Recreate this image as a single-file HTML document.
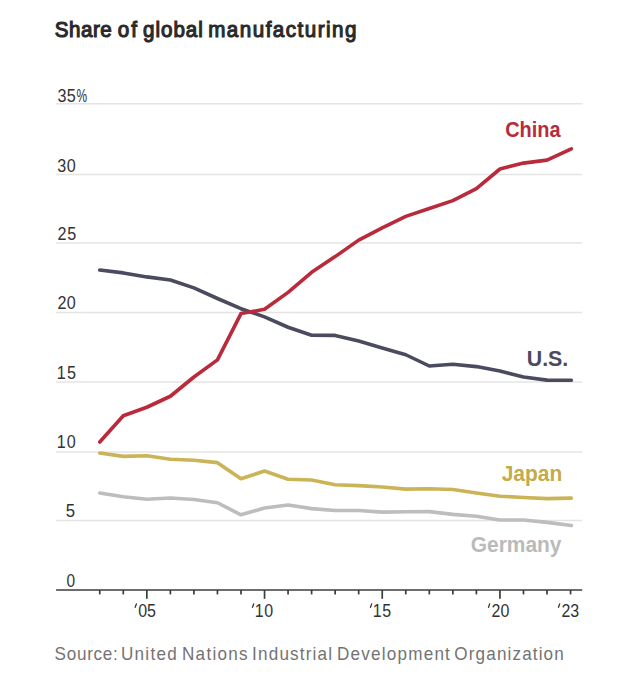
<!DOCTYPE html><html><head><meta charset="utf-8"><style>html,body{margin:0;padding:0;background:#fff;overflow:hidden}svg{display:block}</style></head><body><svg width="640" height="677" viewBox="0 0 640 677">
<rect width="640" height="677" fill="#ffffff"/>
<text transform="scale(0.94,1)" x="58.31" y="36.8" font-family='"Liberation Sans", sans-serif' font-weight="normal" font-size="21.9" fill="#2a2a2a" stroke="#2a2a2a" stroke-width="1.15" textLength="60.62" lengthAdjust="spacing">Share</text>
<text transform="scale(0.94,1)" x="125.15" y="36.8" font-family='"Liberation Sans", sans-serif' font-weight="normal" font-size="21.9" fill="#2a2a2a" stroke="#2a2a2a" stroke-width="1.15" textLength="20.53" lengthAdjust="spacing">of</text>
<text transform="scale(0.94,1)" x="152.16" y="36.8" font-family='"Liberation Sans", sans-serif' font-weight="normal" font-size="21.9" fill="#2a2a2a" stroke="#2a2a2a" stroke-width="1.15" textLength="63.58" lengthAdjust="spacing">global</text>
<text transform="scale(0.94,1)" x="221.50" y="36.8" font-family='"Liberation Sans", sans-serif' font-weight="normal" font-size="21.9" fill="#2a2a2a" stroke="#2a2a2a" stroke-width="1.15" textLength="157.70" lengthAdjust="spacing">manufacturing</text>
<line x1="56.1" y1="103.7" x2="582.3" y2="103.7" stroke="#e4e4e4" stroke-width="1.5"/>
<line x1="56.1" y1="174.5" x2="582.3" y2="174.5" stroke="#e4e4e4" stroke-width="1.5"/>
<line x1="56.1" y1="242.9" x2="582.3" y2="242.9" stroke="#e4e4e4" stroke-width="1.5"/>
<line x1="56.1" y1="312.4" x2="582.3" y2="312.4" stroke="#e4e4e4" stroke-width="1.5"/>
<line x1="56.1" y1="382.1" x2="582.3" y2="382.1" stroke="#e4e4e4" stroke-width="1.5"/>
<line x1="56.1" y1="451.9" x2="582.3" y2="451.9" stroke="#e4e4e4" stroke-width="1.5"/>
<line x1="56.1" y1="520.4" x2="582.3" y2="520.4" stroke="#e4e4e4" stroke-width="1.5"/>
<text transform="scale(0.86,1)" x="66.82" y="101.9" font-family='"Liberation Sans", sans-serif' font-weight="normal" font-size="18.8" fill="#333333" textLength="21.38" lengthAdjust="spacing" stroke="#ffffff" stroke-width="2" paint-order="stroke">35</text>
<text x="76.59" y="101.9" font-family='"Liberation Sans", sans-serif' font-weight="normal" font-size="18.8" fill="#333333" textLength="10.57" lengthAdjust="spacingAndGlyphs" stroke="#ffffff" stroke-width="2" paint-order="stroke">%</text>
<text transform="scale(0.86,1)" x="66.43" y="171.6" font-family='"Liberation Sans", sans-serif' font-weight="normal" font-size="18.8" fill="#333333" textLength="21.68" lengthAdjust="spacing" stroke="#ffffff" stroke-width="2" paint-order="stroke">30</text>
<text transform="scale(0.86,1)" x="66.75" y="240.1" font-family='"Liberation Sans", sans-serif' font-weight="normal" font-size="18.8" fill="#333333" textLength="22.02" lengthAdjust="spacing" stroke="#ffffff" stroke-width="2" paint-order="stroke">25</text>
<text transform="scale(0.86,1)" x="66.75" y="308.9" font-family='"Liberation Sans", sans-serif' font-weight="normal" font-size="18.8" fill="#333333" textLength="21.35" lengthAdjust="spacing" stroke="#ffffff" stroke-width="2" paint-order="stroke">20</text>
<text transform="scale(0.86,1)" x="66.01" y="379.4" font-family='"Liberation Sans", sans-serif' font-weight="normal" font-size="18.8" fill="#333333" textLength="22.26" lengthAdjust="spacing" stroke="#ffffff" stroke-width="2" paint-order="stroke">15</text>
<text transform="scale(0.86,1)" x="66.01" y="447.9" font-family='"Liberation Sans", sans-serif' font-weight="normal" font-size="18.8" fill="#333333" textLength="22.09" lengthAdjust="spacing" stroke="#ffffff" stroke-width="2" paint-order="stroke">10</text>
<text x="65.77" y="516.7" font-family='"Liberation Sans", sans-serif' font-weight="normal" font-size="18.8" fill="#333333" textLength="9.32" lengthAdjust="spacingAndGlyphs" stroke="#ffffff" stroke-width="2" paint-order="stroke">5</text>
<text x="66.42" y="586.7" font-family='"Liberation Sans", sans-serif' font-weight="normal" font-size="18.8" fill="#333333" textLength="8.59" lengthAdjust="spacingAndGlyphs" stroke="#ffffff" stroke-width="2" paint-order="stroke">0</text>
<line x1="56.1" y1="590.0" x2="582.2" y2="590.0" stroke="#3c3c3c" stroke-width="1.7"/>
<line x1="99.75" y1="590.0" x2="99.75" y2="594.4" stroke="#3c3c3c" stroke-width="1.7"/>
<line x1="123.29" y1="590.0" x2="123.29" y2="594.4" stroke="#3c3c3c" stroke-width="1.7"/>
<line x1="146.83" y1="590.0" x2="146.83" y2="598.8" stroke="#3c3c3c" stroke-width="1.7"/>
<line x1="170.37" y1="590.0" x2="170.37" y2="594.4" stroke="#3c3c3c" stroke-width="1.7"/>
<line x1="193.91" y1="590.0" x2="193.91" y2="594.4" stroke="#3c3c3c" stroke-width="1.7"/>
<line x1="217.45" y1="590.0" x2="217.45" y2="594.4" stroke="#3c3c3c" stroke-width="1.7"/>
<line x1="240.99" y1="590.0" x2="240.99" y2="594.4" stroke="#3c3c3c" stroke-width="1.7"/>
<line x1="264.53" y1="590.0" x2="264.53" y2="598.8" stroke="#3c3c3c" stroke-width="1.7"/>
<line x1="288.07" y1="590.0" x2="288.07" y2="594.4" stroke="#3c3c3c" stroke-width="1.7"/>
<line x1="311.61" y1="590.0" x2="311.61" y2="594.4" stroke="#3c3c3c" stroke-width="1.7"/>
<line x1="335.15" y1="590.0" x2="335.15" y2="594.4" stroke="#3c3c3c" stroke-width="1.7"/>
<line x1="358.69" y1="590.0" x2="358.69" y2="594.4" stroke="#3c3c3c" stroke-width="1.7"/>
<line x1="382.23" y1="590.0" x2="382.23" y2="598.8" stroke="#3c3c3c" stroke-width="1.7"/>
<line x1="405.77" y1="590.0" x2="405.77" y2="594.4" stroke="#3c3c3c" stroke-width="1.7"/>
<line x1="429.31" y1="590.0" x2="429.31" y2="594.4" stroke="#3c3c3c" stroke-width="1.7"/>
<line x1="452.85" y1="590.0" x2="452.85" y2="594.4" stroke="#3c3c3c" stroke-width="1.7"/>
<line x1="476.39" y1="590.0" x2="476.39" y2="594.4" stroke="#3c3c3c" stroke-width="1.7"/>
<line x1="499.93" y1="590.0" x2="499.93" y2="598.8" stroke="#3c3c3c" stroke-width="1.7"/>
<line x1="523.47" y1="590.0" x2="523.47" y2="594.4" stroke="#3c3c3c" stroke-width="1.7"/>
<line x1="547.01" y1="590.0" x2="547.01" y2="594.4" stroke="#3c3c3c" stroke-width="1.7"/>
<line x1="570.55" y1="590.0" x2="570.55" y2="594.4" stroke="#3c3c3c" stroke-width="1.7"/>
<text transform="scale(0.86,1)" x="160.63" y="617.0" font-family='"Liberation Sans", sans-serif' font-weight="normal" font-size="18.6" fill="#333333" textLength="20.63" lengthAdjust="spacing">05</text>
<path d="M135.20,607.3 L136.40,603.9" stroke="#333333" stroke-width="1.3" stroke-linecap="round" fill="none"/>
<text transform="scale(0.86,1)" x="296.10" y="617.0" font-family='"Liberation Sans", sans-serif' font-weight="normal" font-size="18.6" fill="#333333" textLength="21.49" lengthAdjust="spacing">10</text>
<path d="M252.50,607.3 L253.70,603.9" stroke="#333333" stroke-width="1.3" stroke-linecap="round" fill="none"/>
<text transform="scale(0.86,1)" x="433.31" y="617.0" font-family='"Liberation Sans", sans-serif' font-weight="normal" font-size="18.6" fill="#333333" textLength="21.44" lengthAdjust="spacing">15</text>
<path d="M370.50,607.3 L371.70,603.9" stroke="#333333" stroke-width="1.3" stroke-linecap="round" fill="none"/>
<text transform="scale(0.86,1)" x="571.48" y="617.0" font-family='"Liberation Sans", sans-serif' font-weight="normal" font-size="18.6" fill="#333333" textLength="20.90" lengthAdjust="spacing">20</text>
<path d="M488.50,607.3 L489.70,603.9" stroke="#333333" stroke-width="1.3" stroke-linecap="round" fill="none"/>
<text transform="scale(0.86,1)" x="652.88" y="617.0" font-family='"Liberation Sans", sans-serif' font-weight="normal" font-size="18.6" fill="#333333" textLength="20.58" lengthAdjust="spacing">23</text>
<path d="M558.50,607.3 L559.70,603.9" stroke="#333333" stroke-width="1.3" stroke-linecap="round" fill="none"/>
<polyline points="99.75,493.00 123.29,496.75 146.83,499.25 170.37,498.00 193.91,499.50 217.45,502.75 240.99,514.80 264.53,508.00 288.07,505.00 311.61,508.60 335.15,510.50 358.69,510.50 382.23,512.10 405.77,511.75 429.31,511.65 452.85,514.35 476.39,516.25 499.93,520.00 523.47,520.00 547.01,522.40 571.35,525.50" fill="none" stroke="#bdbdbd" stroke-width="3.6" stroke-linejoin="round" stroke-linecap="round"/>
<polyline points="99.75,453.00 123.29,456.40 146.83,455.75 170.37,459.25 193.91,460.25 217.45,462.65 240.99,478.80 264.53,471.00 288.07,479.25 311.61,480.00 335.15,484.75 358.69,485.60 382.23,487.00 405.77,489.10 429.31,488.75 452.85,489.50 476.39,493.00 499.93,496.20 523.47,497.50 547.01,498.65 571.35,498.10" fill="none" stroke="#cbb457" stroke-width="3.6" stroke-linejoin="round" stroke-linecap="round"/>
<polyline points="99.75,270.00 123.29,272.90 146.83,276.90 170.37,280.00 193.91,287.90 217.45,298.50 240.99,308.70 264.53,316.85 288.07,327.25 311.61,335.25 335.15,335.40 358.69,341.10 382.23,347.90 405.77,354.75 429.31,366.00 452.85,364.20 476.39,366.60 499.93,371.00 523.47,377.00 547.01,380.10 571.35,380.25" fill="none" stroke="#4b4b60" stroke-width="3.6" stroke-linejoin="round" stroke-linecap="round"/>
<polyline points="99.75,442.00 123.29,415.75 146.83,407.25 170.37,396.25 193.91,377.00 217.45,359.90 240.99,313.60 264.53,309.30 288.07,292.40 311.61,272.30 335.15,256.60 358.69,240.10 382.23,227.80 405.77,216.40 429.31,208.50 452.85,200.60 476.39,188.60 499.93,169.00 523.47,163.10 547.01,160.10 571.35,148.80" fill="none" stroke="#b92a3b" stroke-width="3.6" stroke-linejoin="round" stroke-linecap="round"/>
<text x="505.20" y="136.9" font-family='"Liberation Sans", sans-serif' font-weight="bold" font-size="21.6" fill="#b52d3d" textLength="55.41" lengthAdjust="spacingAndGlyphs">China</text>
<text x="526.74" y="365.6" font-family='"Liberation Sans", sans-serif' font-weight="bold" font-size="21.8" fill="#4b4b60" textLength="41.56" lengthAdjust="spacingAndGlyphs">U.S.</text>
<text x="501.71" y="481.0" font-family='"Liberation Sans", sans-serif' font-weight="bold" font-size="21.6" fill="#c3ab4a" textLength="60.64" lengthAdjust="spacingAndGlyphs">Japan</text>
<text x="470.73" y="551.5" font-family='"Liberation Sans", sans-serif' font-weight="bold" font-size="21.5" fill="#bababa" textLength="90.80" lengthAdjust="spacingAndGlyphs">Germany</text>
<text transform="scale(0.92,1)" x="59.32" y="660.2" font-family='"Liberation Sans", sans-serif' font-weight="normal" font-size="18.6" fill="#737373" textLength="68.70" lengthAdjust="spacing">Source:</text>
<text transform="scale(0.92,1)" x="131.53" y="660.2" font-family='"Liberation Sans", sans-serif' font-weight="normal" font-size="18.6" fill="#737373" textLength="60.49" lengthAdjust="spacing">United</text>
<text transform="scale(0.92,1)" x="197.81" y="660.2" font-family='"Liberation Sans", sans-serif' font-weight="normal" font-size="18.6" fill="#737373" textLength="71.35" lengthAdjust="spacing">Nations</text>
<text transform="scale(0.92,1)" x="274.05" y="660.2" font-family='"Liberation Sans", sans-serif' font-weight="normal" font-size="18.6" fill="#737373" textLength="86.81" lengthAdjust="spacing">Industrial</text>
<text transform="scale(0.92,1)" x="366.29" y="660.2" font-family='"Liberation Sans", sans-serif' font-weight="normal" font-size="18.6" fill="#737373" textLength="122.72" lengthAdjust="spacing">Development</text>
<text transform="scale(0.92,1)" x="493.89" y="660.2" font-family='"Liberation Sans", sans-serif' font-weight="normal" font-size="18.6" fill="#737373" textLength="118.88" lengthAdjust="spacing">Organization</text>
</svg></body></html>
